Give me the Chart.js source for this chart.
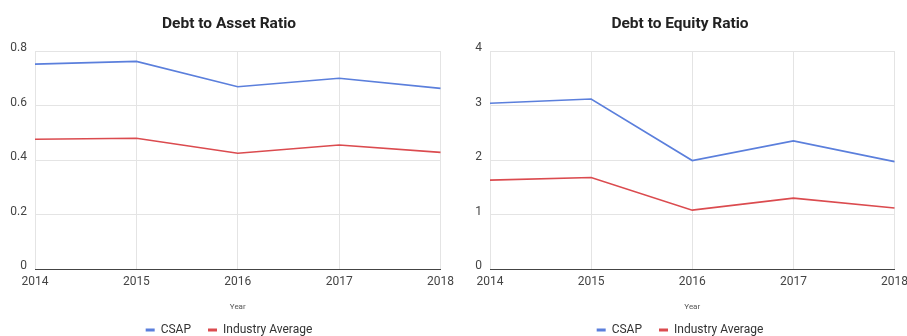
<!DOCTYPE html>
<html>
<head>
<meta charset="utf-8">
<script src="https://cdn.jsdelivr.net/npm/chart.js@4"></script>
<style>
  html, body { margin: 0; padding: 0; background: #fff; overflow: hidden; }
  body { width: 907px; height: 336px; position: relative; }
  .painel { position: absolute; top: 0; height: 346px; }
  #painel-ativo { left: 0; width: 460px; }
  #painel-patrimonio { left: 455px; width: 459px; }
</style>
</head>
<body>
<div class="painel" id="painel-ativo"><canvas id="grafico-ativo"></canvas></div>
<div class="painel" id="painel-patrimonio"><canvas id="grafico-patrimonio"></canvas></div>
<script>
const anos = ['2014', '2015', '2016', '2017', '2018'];

const csapDividaAtivo = [0.752, 0.762, 0.669, 0.700, 0.663];
const mediaDividaAtivo = [0.476, 0.480, 0.425, 0.455, 0.428];

const csapDividaPatrimonio = [3.04, 3.12, 1.99, 2.35, 1.97];
const mediaDividaPatrimonio = [1.63, 1.68, 1.08, 1.30, 1.12];

const ticksAtivo = [0, 0.2, 0.4, 0.6, 0.8];
const ticksPatrimonio = [0, 1, 2, 3, 4];

const corCsap = '#5b7fdc';
const corMedia = '#db4b4f';
const fonte = 'Roboto, Arial, sans-serif';

// margemDireita: espaco vazio a direita do grafico (eixo auxiliar + padding)
function criarGrafico(id, titulo, csap, media, ticks, margemDireita, paddingDireita) {
    const ctx = document.getElementById(id).getContext('2d');
    return new Chart(ctx, {
        type: 'line',
        data: {
            labels: anos,
            datasets: [{
                label: 'CSAP',
                data: csap,
                borderColor: corCsap,
                backgroundColor: corCsap,
                borderWidth: 1.6,
                pointRadius: 0,
                tension: 0
            }, {
                label: 'Industry Average',
                data: media,
                borderColor: corMedia,
                backgroundColor: corMedia,
                borderWidth: 1.6,
                pointRadius: 0,
                tension: 0
            }]
        },
        options: {
            responsive: true,
            maintainAspectRatio: false,
            animation: false,
            layout: { padding: { left: 0, right: paddingDireita, top: 0, bottom: 0 } },
            plugins: {
                title: {
                    display: true,
                    text: titulo,
                    color: '#222',
                    font: { family: fonte, size: 15.5, weight: 'bold' },
                    padding: { top: 14.7, bottom: 17.7 }
                },
                legend: {
                    position: 'bottom',
                    labels: {
                        color: '#333',
                        font: { family: fonte, size: 12 },
                        boxWidth: 9,
                        boxHeight: 3,
                        padding: 17,
                        generateLabels(chart) {
                            return Chart.defaults.plugins.legend.labels.generateLabels(chart)
                                .map(item => Object.assign(item, { lineWidth: 0 }));
                        }
                    }
                },
                tooltip: { enabled: false }
            },
            scales: {
                x: {
                    grid: { color: '#e4e4e4', drawTicks: false },
                    border: { color: '#444', width: 1 },
                    ticks: {
                        color: '#444',
                        font: { family: fonte, size: 12 },
                        padding: 6,
                        maxRotation: 0
                    },
                    title: {
                        display: true,
                        text: 'Year',
                        color: '#555',
                        font: { family: fonte, size: 8 },
                        padding: { top: 0, bottom: -4.8 }
                    },
                    afterFit(escala) { escala.height = 38; }
                },
                y: {
                    min: ticks[0],
                    max: ticks[ticks.length - 1],
                    afterBuildTicks(escala) {
                        escala.ticks = ticks.map(v => ({ value: v }));
                    },
                    grid: { color: '#e4e4e4', drawTicks: false },
                    border: { display: false },
                    ticks: {
                        color: '#444',
                        font: { family: fonte, size: 12 },
                        padding: 8,
                        labelOffset: -3
                    },
                    afterFit(escala) { escala.width = 35; }
                },
                // eixo vazio so para reservar espaco a direita
                margem: {
                    type: 'linear',
                    position: 'right',
                    display: true,
                    grid: { display: false },
                    border: { display: false },
                    ticks: { display: false },
                    afterFit(escala) { escala.width = margemDireita; }
                }
            }
        }
    });
}

const graficoAtivo = criarGrafico('grafico-ativo', 'Debt to Asset Ratio',
    csapDividaAtivo, mediaDividaAtivo, ticksAtivo, 14, 2);
const graficoPatrimonio = criarGrafico('grafico-patrimonio', 'Debt to Equity Ratio',
    csapDividaPatrimonio, mediaDividaPatrimonio, ticksPatrimonio, 9, 9);
</script>
</body>
</html>
